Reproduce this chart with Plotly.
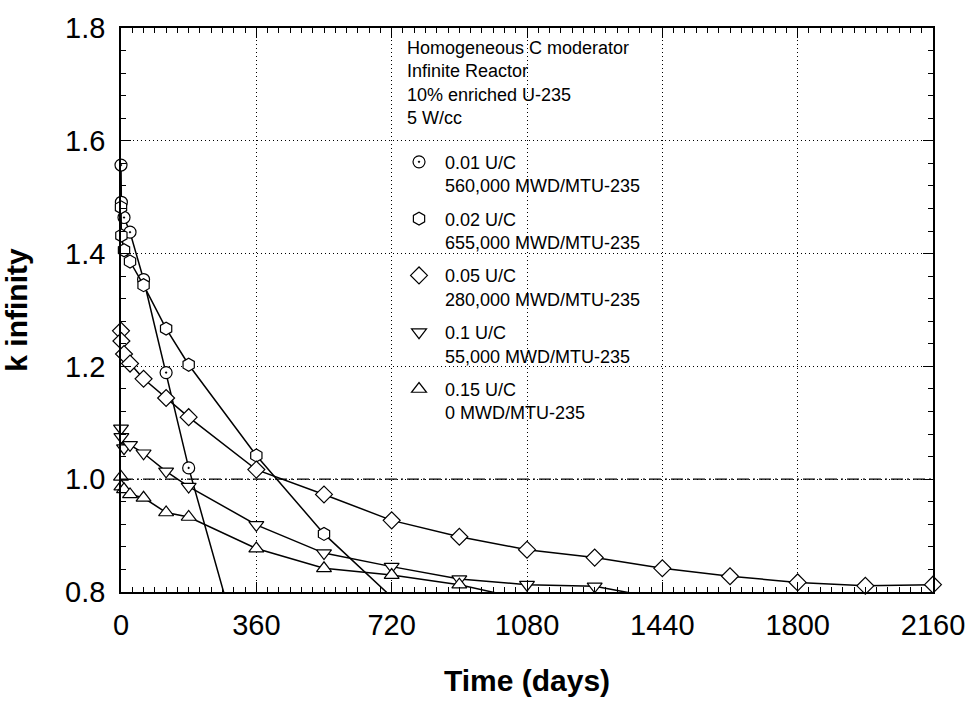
import plotly.graph_objects as go

# ---------------- data ----------------
t_early = [0, 1, 8, 24, 60, 120, 180]

time_001 = t_early + [360]
k_001 = [1.557, 1.491, 1.464, 1.438, 1.354, 1.189, 1.020, 0.594]

time_002 = t_early + [360, 540, 720]
k_002 = [1.482, 1.432, 1.406, 1.386, 1.344, 1.267, 1.203, 1.042, 0.903, 0.791]

time_005 = t_early + [360, 540, 720, 900, 1080, 1260, 1440, 1620, 1800, 1980, 2160]
k_005 = [1.263, 1.245, 1.222, 1.205, 1.178, 1.144, 1.110, 1.017, 0.973, 0.927,
         0.898, 0.875, 0.861, 0.842, 0.828, 0.817, 0.811, 0.813]

time_010 = t_early + [360, 540, 720, 900, 1080, 1260, 1440]
k_010 = [1.090, 1.075, 1.055, 1.061, 1.046, 1.014, 0.987, 0.919, 0.869, 0.845,
         0.823, 0.813, 0.810, 0.788]

time_015 = t_early + [360, 540, 720, 900, 1080]
k_015 = [1.004, 0.987, 0.982, 0.973, 0.967, 0.941, 0.933, 0.877, 0.842, 0.830,
         0.813, 0.786]

series_names = [
    "0.01 U/C<br>560,000 MWD/MTU-235",
    "0.02 U/C<br>655,000 MWD/MTU-235",
    "0.05 U/C<br>280,000 MWD/MTU-235",
    "0.1 U/C<br>55,000 MWD/MTU-235",
    "0.15 U/C<br>0 MWD/MTU-235",
]
series_symbols = ["circle-dot", "hexagon", "diamond", "triangle-down", "triangle-up"]
series_sizes = [12, 13, 13, 13, 13]

x_ticks = [0, 360, 720, 1080, 1440, 1800, 2160]
y_ticks = [0.8, 1.0, 1.2, 1.4, 1.6, 1.8]
x_range = [0, 2160]
y_range = [0.8, 1.8]
x_minor_step = 30
y_minor_step = 0.04
k_critical = 1.0

info_lines = ["Homogeneous C moderator", "Infinite Reactor", "10% enriched U-235", "5 W/cc"]

FONT = "Arial, 'Liberation Sans', Helvetica, sans-serif"

series = [(time_001, k_001), (time_002, k_002), (time_005, k_005),
          (time_010, k_010), (time_015, k_015)]

fig = go.Figure()

for i, ((tx, ky), name, sym, sz) in enumerate(zip(series, series_names, series_symbols, series_sizes)):
    # connecting line (clipped to the plotting area)
    fig.add_trace(go.Scatter(x=tx, y=ky, mode="lines",
                             line=dict(color="black", width=1.5),
                             showlegend=False, hoverinfo="skip"))
    # markers that fall inside the y range
    mx = [a for a, b in zip(tx, ky) if b >= y_range[0]]
    my = [b for b in ky if b >= y_range[0]]
    fig.add_trace(go.Scatter(x=mx, y=my, mode="markers", cliponaxis=False,
                             marker=dict(symbol=sym, size=sz, color="white",
                                         line=dict(color="black", width=1.2)),
                             showlegend=False))
    # legend entry (marker only)
    fig.add_trace(go.Scatter(x=[None], y=[None], mode="markers", name=name,
                             legendgroup=f"g{i}",
                             marker=dict(symbol=sym, size=sz, color="white",
                                         line=dict(color="black", width=1.2))))

# invisible trace to activate the mirrored (top / right) tick axes
fig.add_trace(go.Scatter(x=[None], y=[None], xaxis="x2", yaxis="y2",
                         mode="markers", showlegend=False, hoverinfo="skip"))

fig.add_shape(type="line", xref="paper", x0=0, x1=1, yref="y", y0=k_critical, y1=k_critical,
              line=dict(color="black", width=1.2, dash="12px,4px,2px,4px"))

fig.add_annotation(xref="paper", yref="paper", x=0.350, y=0.985, xanchor="left", yanchor="top",
                   text="<br>".join(info_lines), showarrow=False, align="left",
                   font=dict(family=FONT, size=18, color="black"))

tick_common = dict(ticks="inside", ticklen=10, tickwidth=1, tickcolor="black", zeroline=False)

fig.update_layout(
    xaxis=dict(range=x_range, tickvals=x_ticks, showline=True, linecolor="black", linewidth=1.5,
               mirror=True, showgrid=True, gridcolor="black", gridwidth=1, griddash="1px,3px",
               tickfont=dict(family=FONT, size=29, color="black"), ticklabelstandoff=6,
               minor=dict(dtick=x_minor_step, tick0=0, ticks="inside", ticklen=5, tickcolor="black",
                          showgrid=False),
               title=dict(text="<b>Time (days)</b>", font=dict(family=FONT, size=30, color="black"),
                          standoff=30),
               **tick_common),
    yaxis=dict(range=y_range, tickvals=y_ticks, tickformat=".1f", showline=True, linecolor="black",
               linewidth=1.5, mirror=True, showgrid=True, gridcolor="black", gridwidth=1,
               griddash="1px,3px",
               tickfont=dict(family=FONT, size=29, color="black"), ticklabelstandoff=8,
               minor=dict(dtick=y_minor_step, tick0=0.8, ticks="inside", ticklen=5, tickcolor="black",
                          showgrid=False),
               title=dict(text="<b>k infinity</b>", font=dict(family=FONT, size=30, color="black"),
                          standoff=29),
               **tick_common),
    xaxis2=dict(range=x_range, tickvals=x_ticks, overlaying="x", side="top", anchor="y",
                showticklabels=False, showgrid=False, showline=False,
                minor=dict(dtick=x_minor_step, tick0=0, ticks="inside", ticklen=5, tickcolor="black",
                           showgrid=False),
                **tick_common),
    yaxis2=dict(range=y_range, tickvals=y_ticks, overlaying="y", side="right", anchor="x",
                showticklabels=False, showgrid=False, showline=False,
                minor=dict(dtick=y_minor_step, tick0=0.8, ticks="inside", ticklen=5, tickcolor="black",
                           showgrid=False),
                **tick_common),
    width=977, height=704,
    margin=dict(l=121, r=40, t=23, b=110),
    paper_bgcolor="white", plot_bgcolor="white",
    font=dict(family=FONT, color="black"),
    showlegend=True,
    legend=dict(x=0.335, y=0.795, xanchor="left", yanchor="top",
                bgcolor="rgba(0,0,0,0)", font=dict(family=FONT, size=18, color="black"),
                tracegroupgap=7, valign="top", itemwidth=42),
)

fig.write_html("out.html")
